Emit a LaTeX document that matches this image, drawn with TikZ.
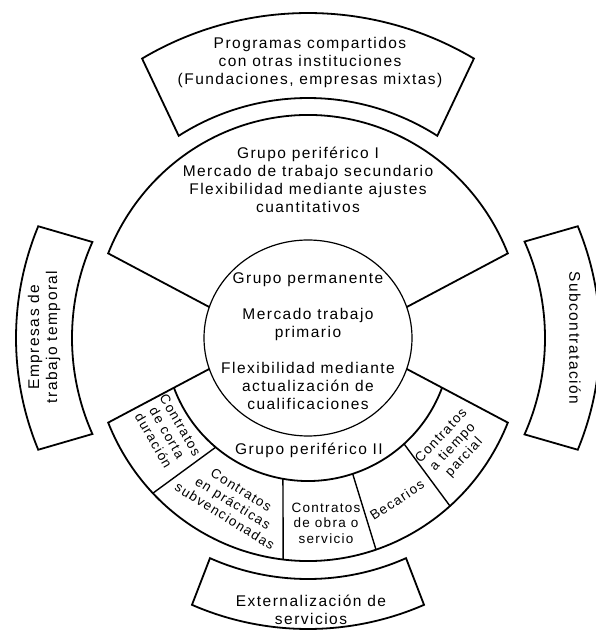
\documentclass[tikz,border=0pt]{standalone}
\usepackage{fontspec}
\setmainfont{Liberation Sans}[LetterSpace=9.5]
\begin{document}
\begin{tikzpicture}[x=1pt,y=1pt,
  shapeline/.style={line width=1.8pt, line join=miter},
  divline/.style={line width=1.4pt},
  thinline/.style={line width=1.2pt},
  bigtext/.style={font=\fontsize{15.5}{18}\selectfont, align=center, inner sep=0pt},
  smalltext/.style={font=\fontsize{13.5}{15.5}\selectfont, align=center, inner sep=0pt}]
\useasboundingbox (0,0) rectangle (596,632);
\begin{scope}[shift={(308,294)}]
  % upper sector (Grupo periferico I)
  \draw[shapeline] (161.6:104pt and 98pt) -- (157.7:216pt and 223pt)
     arc[start angle=157.7, end angle=22.3, x radius=216pt, y radius=223pt]
     -- (18.4:104pt and 98pt);
  % lower sector
  \draw[shapeline] (198.4:104pt and 98pt) -- (202.3:216pt and 223pt)
     arc[start angle=202.3, end angle=337.7, x radius=216pt, y radius=223pt]
     -- (341.6:104pt and 98pt);
  \draw[shapeline] (200.3:143pt) arc[start angle=200.3, end angle=339.7, radius=143pt];
  % cell dividers
  \draw[divline] (229.8:143pt) -- (224.1:216pt and 223pt);
  \draw[divline] (259.9:143pt) -- (263.4:216pt and 223pt);
  \draw[divline] (288.2:143pt) -- (288.35:216pt and 223pt);
  \draw[divline] (312.2:143pt) -- (311.1:216pt and 223pt);
  % inner circle
  \draw[thinline] (0,0) ellipse [x radius=104pt, y radius=98pt];
  % outer boxes
  \draw[shapeline] (57.4:240pt) -- (59.3:325pt) arc[start angle=59.3, end angle=120.7, radius=325pt]
     -- (122.6:240pt) arc[start angle=122.6, end angle=57.4, radius=240pt] -- cycle;
  \draw[shapeline] (156:236pt) -- (157.5:292pt) arc[start angle=157.5, end angle=202.5, radius=292pt]
     -- (204:236pt) arc[start angle=204, end angle=156, radius=236pt] -- cycle;
  \draw[shapeline] (-24:237pt) -- (-22.5:292pt) arc[start angle=-22.5, end angle=22.5, radius=292pt]
     -- (24:237pt) arc[start angle=24, end angle=-24, radius=237pt] -- cycle;
  \draw[shapeline] (246:241pt) -- (246.5:291pt) arc[start angle=246.5, end angle=293.5, radius=291pt]
     -- (294:241pt) arc[start angle=294, end angle=246, radius=241pt] -- cycle;
  % texts
  \node[bigtext] (prog) at (2,276) {Programas compartidos\\con otras instituciones\\(Fundaciones, empresas mixtas)};
  \node[bigtext] (gp1) at (0,158) {Grupo periférico I\\Mercado de trabajo secundario\\Flexibilidad mediante ajustes\\cuantitativos};
  \node[bigtext] (gperm) at (0,-3) {Grupo permanente\\[18pt]Mercado trabajo\\primario\\[18pt]Flexibilidad mediante\\actualización de\\cualificaciones};
  \node[bigtext] (gp2) at (1,-112) {Grupo periférico II};
  \node[smalltext, rotate=-60] (corta) at (-141,-95) {Contratos\\de corta\\duración};
  \node[smalltext, rotate=-32] (pract) at (-75,-165) {Contratos\\en prácticas\\subvencionadas};
  \node[smalltext] (obra) at (18,-185) {Contratos\\de obra o\\servicio};
  \node[smalltext, rotate=33] (becar) at (89,-162) {Becarios};
  \node[smalltext, rotate=47] (parcial) at (145,-109) {Contratos\\a tiempo\\parcial};
  \node[bigtext, rotate=90] (ett) at (-264,1) {Empresas de\\trabajo temporal};
  \node[bigtext, rotate=-90] (subc) at (267,0) {Subcontratación};
  \node[bigtext] (ext) at (3,-272) {Externalización de\\servicios};
\end{scope}
\end{tikzpicture}
\end{document}
